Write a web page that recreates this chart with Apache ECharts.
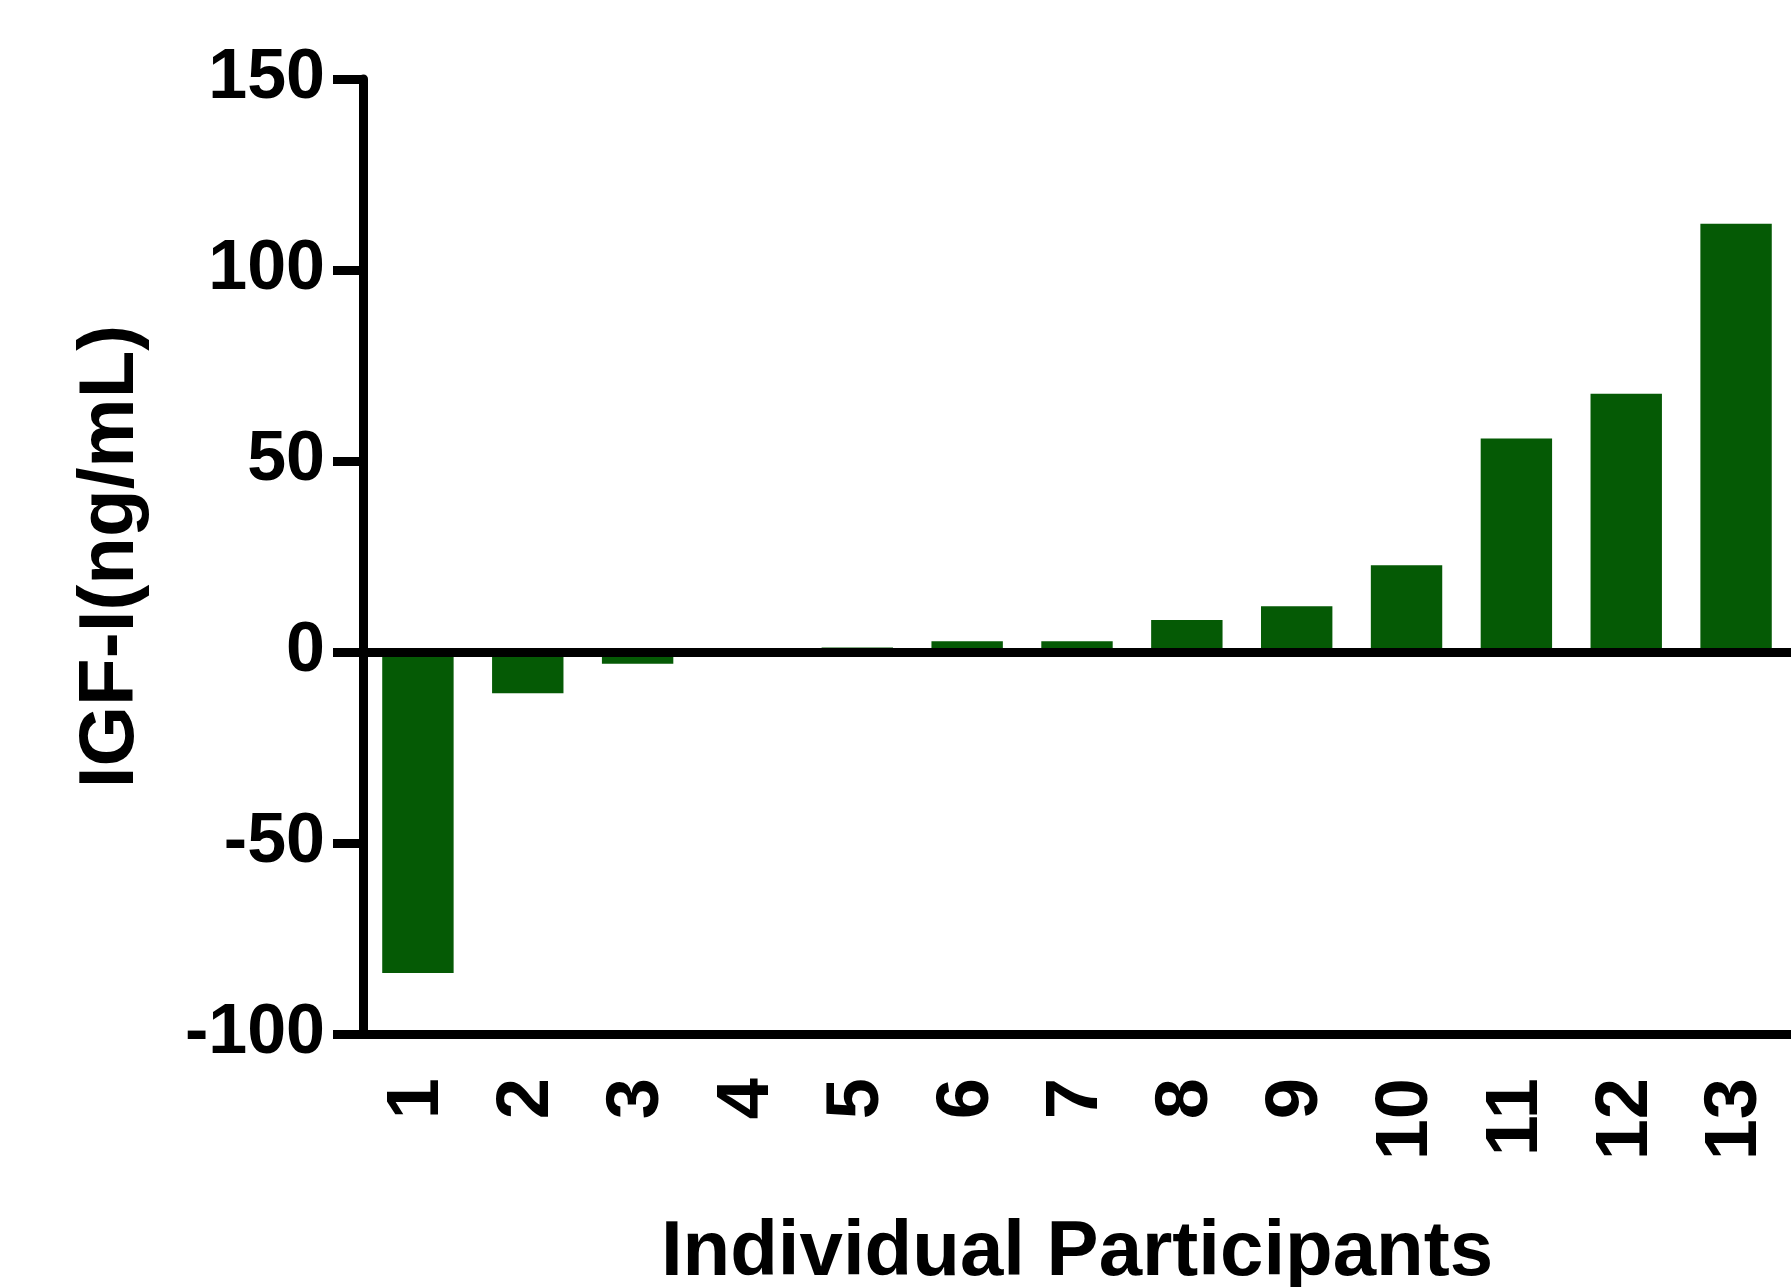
<!DOCTYPE html>
<html lang="en">
<head>
  <meta charset="UTF-8">
  <title>IGF-I change by participant</title>
  <script src="https://cdn.jsdelivr.net/npm/echarts@6.0.0/dist/echarts.min.js"></script>
  <style>
    html, body { margin: 0; padding: 0; background: #fff; }
  </style>
</head>
<body>

  <div id="main" style="width: 1791px;height:1287px;"></div>

  <script type="text/javascript">
    // Data
    const participants = ['1', '2', '3', '4', '5', '6', '7', '8', '9', '10', '11', '12', '13'];
    const igfChange = [-84, -10.8, -3.1, 0, 1.2, 2.8, 2.8, 8.4, 12, 22.7, 55.9, 67.6, 112.1];
    const yTicks = [-100, -50, 0, 50, 100, 150];

    const font = '"Liberation Sans", Arial, sans-serif';

    let myChart = echarts.init(document.getElementById('main'));

    let options = {
      backgroundColor: '#fff',
      animation: false,
      // outerBoundsMode none: keep the plot area where the figure has it
      grid: { left: 363, top: 79, right: 0, bottom: 253, containLabel: false, outerBoundsMode: 'none' },
      xAxis: {
        type: 'category',
        data: participants,
        name: 'Individual Participants',
        nameLocation: 'middle',
        nameGap: 180,
        nameTextStyle: { fontFamily: font, fontWeight: 'bold', fontSize: 78, color: '#000' },
        axisLine: { onZero: false, lineStyle: { color: '#000', width: 9 } },
        axisTick: { alignWithLabel: true, length: 24, lineStyle: { color: '#000', width: 9 } },
        axisLabel: {
          rotate: 90, margin: 44, interval: 0,
          fontFamily: font, fontWeight: 'bold', fontSize: 74, color: '#000'
        },
        splitLine: { show: false }
      },
      yAxis: {
        type: 'value',
        min: yTicks[0],
        max: yTicks[yTicks.length - 1],
        interval: 50,
        name: 'IGF-I(ng/mL)',
        nameLocation: 'middle',
        nameGap: 213,
        nameTextStyle: { fontFamily: font, fontWeight: 'bold', fontSize: 78, color: '#000' },
        axisLine: { show: true, lineStyle: { color: '#000', width: 9 } },
        axisTick: { show: true, length: 30, lineStyle: { color: '#000', width: 9 } },
        axisLabel: { margin: 38, fontFamily: font, fontWeight: 'bold', fontSize: 70, color: '#000' },
        splitLine: { show: false }
      },
      series: [{
        name: 'IGF-I',
        type: 'bar',
        data: igfChange,
        barCategoryGap: '35%',
        itemStyle: { color: '#055a05' },
        markLine: {
          silent: true,
          symbol: 'none',
          label: { show: false },
          lineStyle: { color: '#000', width: 9, type: 'solid' },
          data: [{ yAxis: 0 }]
        }
      }]
    };

    myChart.setOption(options);
  </script>
</body>
</html>
